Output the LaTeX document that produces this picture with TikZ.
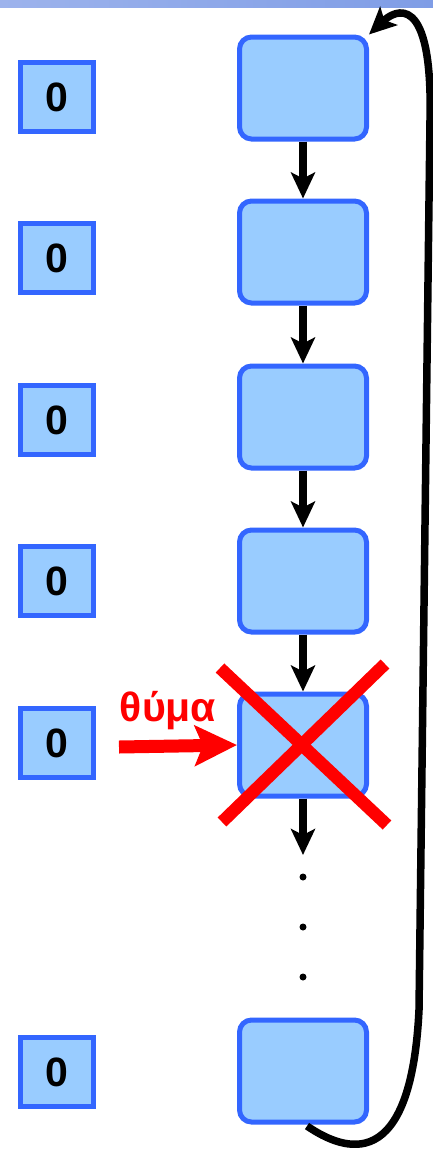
\documentclass[tikz,border=0pt]{standalone}
\usepackage{fontspec}
\setmainfont{Liberation Sans}
\usetikzlibrary{arrows.meta}
\definecolor{boxfill}{HTML}{99CCFF}
\definecolor{boxline}{HTML}{3366FF}
\definecolor{xred}{HTML}{FF0000}
\definecolor{bandA}{HTML}{9DB3EC}
\definecolor{bandB}{HTML}{7F9DE6}
\tikzset{
  smallbox/.style={draw=boxline, fill=boxfill, line width=5pt, minimum width=73pt, minimum height=69pt, inner sep=0pt,
     font=\fontsize{41}{45}\selectfont\bfseries},
  bigbox/.style={draw=boxline, fill=boxfill, line width=5pt, rounded corners=12pt, minimum width=127pt, minimum height=102pt, inner sep=0pt},
  link/.style={line width=7.5pt, -{Stealth[length=26pt,width=24pt,inset=6pt]}},
  dotnode/.style={circle, fill=black, inner sep=0pt, minimum size=7pt},
  xline/.style={draw=xred, line width=12.5pt},
}
\begin{document}
\begin{tikzpicture}[x=1pt,y=-1pt]
\useasboundingbox (0,0) rectangle (433,1152);
% top band
\shade[left color=bandA, right color=bandB] (0,0) rectangle (433,7);
% small boxes
\node[smallbox] (s1) at (57,97) {0};
\node[smallbox] (s2) at (57,258) {0};
\node[smallbox] (s3) at (57,420) {0};
\node[smallbox] (s4) at (57,581) {0};
\node[smallbox] (s5) at (57,743) {0};
\node[smallbox] (s6) at (57,1072) {0};
% big boxes
\node[bigbox] (b1) at (303,88) {};
\node[bigbox] (b2) at (303,252) {};
\node[bigbox] (b3) at (303,417) {};
\node[bigbox] (b4) at (303,581) {};
\node[bigbox] (b5) at (303,745) {};
\node[bigbox] (b6) at (303,1071) {};
% dots
\node[dotnode] (d1) at (303,877) {};
\node[dotnode] (d2) at (303,927) {};
\node[dotnode] (d3) at (303,977) {};
\coordinate (e5) at (303,855);
% links
\draw[link] (b1.south) -- (b2.north);
\draw[link] (b2.south) -- (b3.north);
\draw[link] (b3.south) -- (b4.north);
\draw[link] (b4.south) -- (b5.north);
\draw[link] (b5.south) -- (e5);
% loop back
\coordinate (L1) at (307,1126);
\coordinate (L2) at (419,1010);
\coordinate (L3) at (430,120);
\draw[line width=7.5pt, -{Stealth[length=27pt,width=25pt,inset=6pt]}]
  (L1) .. controls (345,1152) and (411,1175) .. (L2)
  -- (L3) .. controls (433,-10) and (395,10) .. (b1.north east);
% red X
\coordinate (x1) at (220,668);
\coordinate (x2) at (387,825);
\coordinate (x3) at (385,664);
\coordinate (x4) at (222,822);
\draw[xline] (x1) -- (x2);
\draw[xline] (x3) -- (x4);
% victim arrow and label
\coordinate (v0) at (119,747);
\draw[draw=xred, line width=13pt, -{Stealth[length=42pt,width=40pt,inset=8pt]}, xred] (v0) -- (b5.west);
\node[text=xred, font=\fontsize{41}{45}\selectfont\bfseries] (lab) at (168,711) {θύμα};
\end{tikzpicture}
\end{document}
